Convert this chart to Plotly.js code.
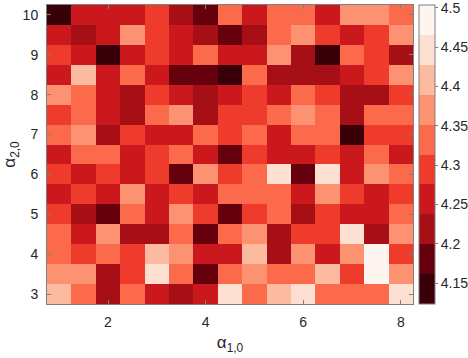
<!DOCTYPE html>
<html>
<head>
<meta charset="utf-8">
<script src="https://cdn.plot.ly/plotly-3.0.1.min.js"></script>
<style>
html,body{margin:0;padding:0;background:#fff;}
#chart{width:468px;height:358px;}
</style>
</head>
<body>
<div id="chart"></div>
<script>
// alpha_{1,0} cell centres
var alpha10 = [1, 1.5, 2, 2.5, 3, 3.5, 4, 4.5, 5, 5.5, 6, 6.5, 7, 7.5, 8];
// alpha_{2,0} cell centres (top row first)
var alpha20 = [10, 9.5, 9, 8.5, 8, 7.5, 7, 6.5, 6, 5.5, 5, 4.5, 4, 3.5, 3];

// values read per row, top (alpha20 = 10) to bottom (alpha20 = 3)
var row100 = [4.142, 4.257, 4.257, 4.257, 4.295, 4.219, 4.181, 4.333, 4.257, 4.333, 4.333, 4.257, 4.371, 4.371, 4.333];
var row095 = [4.257, 4.219, 4.257, 4.371, 4.295, 4.257, 4.219, 4.181, 4.219, 4.333, 4.371, 4.295, 4.257, 4.295, 4.371];
var row090 = [4.295, 4.257, 4.142, 4.257, 4.295, 4.257, 4.333, 4.257, 4.257, 4.371, 4.219, 4.142, 4.333, 4.295, 4.219];
var row085 = [4.257, 4.409, 4.257, 4.333, 4.257, 4.181, 4.181, 4.142, 4.333, 4.219, 4.219, 4.219, 4.257, 4.295, 4.371];
var row080 = [4.371, 4.333, 4.257, 4.219, 4.295, 4.257, 4.219, 4.257, 4.295, 4.257, 4.333, 4.295, 4.219, 4.219, 4.295];
var row075 = [4.295, 4.333, 4.257, 4.219, 4.333, 4.371, 4.219, 4.295, 4.295, 4.333, 4.371, 4.333, 4.219, 4.333, 4.333];
var row070 = [4.333, 4.371, 4.219, 4.295, 4.257, 4.257, 4.333, 4.295, 4.333, 4.257, 4.333, 4.333, 4.142, 4.295, 4.295];
var row065 = [4.257, 4.333, 4.333, 4.257, 4.295, 4.333, 4.257, 4.181, 4.295, 4.257, 4.257, 4.295, 4.257, 4.333, 4.257];
var row060 = [4.295, 4.257, 4.295, 4.257, 4.295, 4.181, 4.371, 4.295, 4.333, 4.447, 4.181, 4.447, 4.257, 4.371, 4.333];
var row055 = [4.257, 4.295, 4.257, 4.371, 4.257, 4.295, 4.257, 4.333, 4.333, 4.333, 4.257, 4.371, 4.295, 4.257, 4.295];
var row050 = [4.295, 4.219, 4.181, 4.333, 4.257, 4.371, 4.295, 4.181, 4.295, 4.333, 4.219, 4.295, 4.257, 4.257, 4.333];
var row045 = [4.333, 4.257, 4.371, 4.219, 4.219, 4.333, 4.181, 4.333, 4.371, 4.219, 4.295, 4.295, 4.447, 4.219, 4.371];
var row040 = [4.333, 4.295, 4.333, 4.295, 4.409, 4.371, 4.257, 4.257, 4.409, 4.219, 4.371, 4.257, 4.371, 4.485, 4.295];
var row035 = [4.371, 4.371, 4.219, 4.295, 4.447, 4.333, 4.181, 4.333, 4.371, 4.333, 4.333, 4.409, 4.295, 4.485, 4.371];
var row030 = [4.409, 4.333, 4.219, 4.333, 4.257, 4.219, 4.257, 4.447, 4.333, 4.409, 4.447, 4.333, 4.333, 4.333, 4.447];

var cbTickVals = [4.15, 4.2, 4.25, 4.3, 4.35, 4.4, 4.45, 4.5];
var cbTickText = ['4.15', '4.2', '4.25', '4.3', '4.35', '4.4', '4.45', '4.5'];
var xTickVals = [2, 4, 6, 8];
var yTickVals = [3, 4, 5, 6, 7, 8, 9, 10];

var palette = ['#3a0009', '#67000d', '#a50f15', '#cb181d', '#ef3b2c',
               '#fb6a4a', '#fc9272', '#fcbba1', '#fee0d2', '#fff5f0'];
var cscale = [];
for (var k = 0; k < palette.length; k++) {
  cscale.push([k / palette.length, palette[k]]);
  cscale.push([(k + 1) / palette.length, palette[k]]);
}

var z = [row100, row095, row090, row085, row080, row075, row070, row065,
         row060, row055, row050, row045, row040, row035, row030];

var axisColor = '#262626';
var fnt = {family: 'Liberation Sans, Arial, sans-serif', size: 14, color: axisColor};
var titleFnt = {family: 'Liberation Sans, Arial, sans-serif', size: 17, color: axisColor};

var trace = {
  type: 'heatmap',
  x: alpha10,
  y: alpha20,
  z: z,
  zmin: 4.1235,
  zmax: 4.5035,
  colorscale: cscale,
  xgap: 0, ygap: 0,
  hoverinfo: 'none',
  colorbar: {
    x: 1.016, xanchor: 'left',
    y: 0.5, yanchor: 'middle',
    len: 1, lenmode: 'fraction',
    thickness: 16, thicknessmode: 'pixels',
    xpad: 0, ypad: 0,
    outlinecolor: '#7f7f7f', outlinewidth: 1,
    ticks: 'outside', ticklen: 3, tickcolor: '#7f7f7f',
    ticklabeloverflow: 'allow',
    tickmode: 'array', tickvals: cbTickVals, ticktext: cbTickText,
    tickfont: fnt
  }
};

var layout = {
  width: 468, height: 358,
  margin: {l: 47, r: 55, t: 5, b: 54, autoexpand: false},
  paper_bgcolor: '#ffffff', plot_bgcolor: '#ffffff',
  font: fnt,
  xaxis: {
    range: [0.75, 8.25], autorange: false,
    tickmode: 'array', tickvals: xTickVals,
    ticks: 'inside', ticklen: 4, tickcolor: '#7f7f7f',
    showline: true, linecolor: '#7f7f7f', linewidth: 1, mirror: 'ticks',
    showgrid: false, zeroline: false,
    ticklabelstandoff: 5,
    tickfont: fnt,
    title: {text: 'α<sub>1,0</sub>', font: titleFnt, standoff: 7}
  },
  yaxis: {
    range: [2.75, 10.25], autorange: false,
    tickmode: 'array', tickvals: yTickVals,
    ticks: 'inside', ticklen: 4, tickcolor: '#7f7f7f',
    showline: true, linecolor: '#7f7f7f', linewidth: 1, mirror: 'ticks',
    showgrid: false, zeroline: false,
    ticklabelstandoff: 5,
    tickfont: fnt,
    title: {text: 'α<sub>2,0</sub>', font: titleFnt, standoff: 6}
  }
};

Plotly.newPlot('chart', [trace], layout, {displayModeBar: false, staticPlot: true});
</script>
</body>
</html>
